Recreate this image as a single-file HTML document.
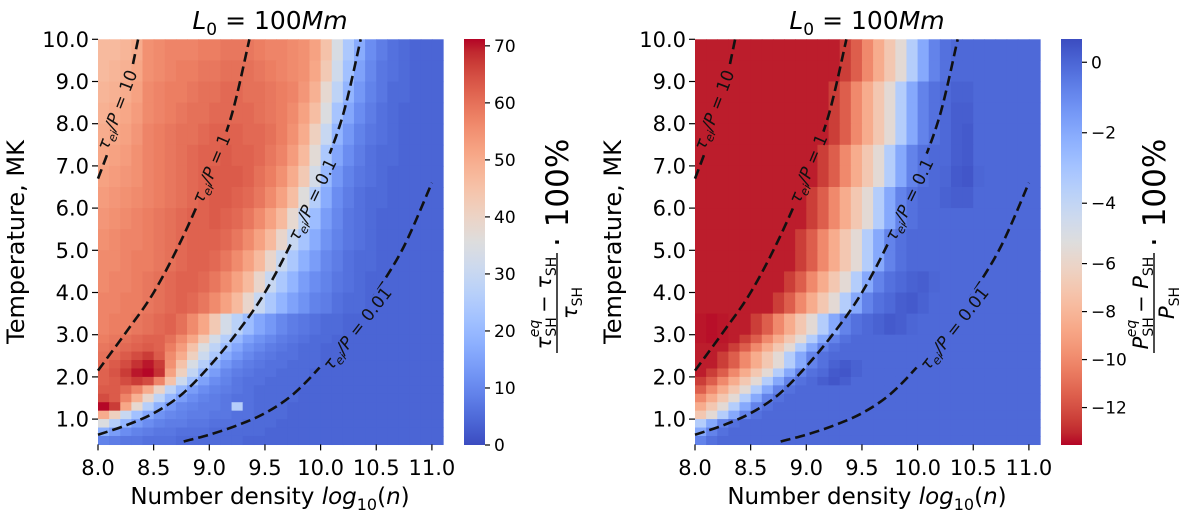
<!DOCTYPE html>
<html><head><meta charset="utf-8">
<style>
html,body{margin:0;padding:0;background:#fff;}
svg{display:block;font-family:"DejaVu Sans","Liberation Sans",sans-serif;}
</style></head>
<body>
<svg id="fig" width="1200" height="519" viewBox="0 0 1200 519" xmlns="http://www.w3.org/2000/svg">
  <g id="left-panel"></g>
  <g id="right-panel"></g>
</svg>
<script>
// ---------- data ----------
const densityEdges = [8.0,8.1,8.2,8.3,8.4,8.5,8.6,8.7,8.8,8.9,9.0,9.1,9.2,9.3,9.4,9.5,9.6,9.7,9.8,9.9,10.0,10.1,10.2,10.3,10.4,10.5,10.6,10.7,10.8,10.9,11.0,11.1];
const tempEdges = [10,9.5,9,8.5,8,7.5,7,6.5,6,5.5,5,4.5,4,3.5,3,2.8,2.6,2.4,2.2,2.0,1.8,1.6,1.4,1.2,1.0,0.8,0.6,0.4];
const xTickValues = [8.0,8.5,9.0,9.5,10.0,10.5,11.0];
const yTickValues = [1,2,3,4,5,6,7,8,9,10];
const leftCbarTicks = [0,10,20,30,40,50,60,70];
const rightCbarTicks = [0,-2,-4,-6,-8,-10,-12];
const leftRange = [0, 71.2];
const rightNormVals = [-13.56, -5.1, 0.66]; // vmin, vcenter, vmax

const leftZ = [
[47,47,48,50,55,56,57,57,57,58,58,59,59,59,58,57,57,56,55,52,45,34,24,17,11,8,6,5,4,4,4],
[47,48,49,51,55,56,57,58,58,59,59,60,60,60,59,58,57,56,55,51,43,32,22,15,10,7,6,5,4,4,4],
[48,49,50,52,56,57,58,58,59,60,60,61,61,60,60,59,58,57,54,49,38,28,19,13,9,7,5,5,4,4,4],
[49,50,51,53,56,57,58,59,60,60,61,61,61,61,60,59,58,56,52,46,35,23,16,11,8,6,5,4,4,4,4],
[50,51,52,54,57,58,59,60,60,61,62,62,62,61,61,60,58,55,50,41,30,19,13,9,7,6,5,4,4,4,4],
[51,52,53,55,57,58,59,60,61,62,62,63,62,62,61,59,57,53,47,37,24,16,11,8,6,5,5,4,4,4,4],
[52,53,54,55,57,58,59,60,61,62,63,63,63,62,60,58,55,50,43,33,20,13,9,7,6,5,4,4,4,4,4],
[53,54,55,56,57,58,59,60,61,62,63,63,62,61,59,56,52,46,36,26,17,11,8,6,5,5,4,4,4,4,4],
[54,55,56,57,58,59,60,61,62,62,63,62,61,59,56,52,47,38,28,21,14,10,7,6,5,4,4,4,4,4,4],
[55,56,57,57,58,59,60,61,62,62,62,61,59,56,52,47,39,30,23,17,12,9,7,6,5,4,4,4,4,4,4],
[56,56,57,58,58,59,60,61,62,62,61,59,56,52,47,39,30,24,18,14,10,8,6,5,5,4,4,4,4,4,4],
[56,57,57,58,59,60,61,62,62,61,59,56,52,47,39,30,24,19,14,11,9,7,6,5,4,4,4,4,4,4,4],
[57,57,58,58,59,60,61,62,61,59,56,52,47,39,30,24,19,15,12,9,8,6,5,5,4,4,4,4,4,4,4],
[57,58,58,59,60,61,62,60,56,51,43,33,27,21,16,13,10,8,7,6,5,5,4,4,4,4,4,4,4,4,4],
[58,59,60,61,62,62,60,56,51,43,33,26,20,15,12,10,8,7,6,5,5,4,4,4,4,4,4,4,4,4,4],
[59,60,61,62,63,62,58,53,45,35,28,21,16,12,10,8,7,6,5,5,4,4,4,4,4,4,4,4,4,4,4],
[60,61,63,65,67,63,56,50,41,31,24,17,13,10,8,7,6,6,5,5,4,4,4,4,4,4,4,4,4,4,4],
[61,63,65,68,70,67,55,45,34,26,18,13,10,8,7,6,6,5,5,5,4,4,4,4,4,4,4,4,4,4,4],
[62,64,67,70,71,68,52,41,29,20,14,10,8,7,6,6,5,5,5,4,4,4,4,4,4,4,4,4,4,4,4],
[62,63,65,67,65,57,45,31,22,15,11,9,7,6,6,5,5,5,5,4,4,4,4,4,4,4,4,4,4,4,4],
[63,63,61,57,50,40,28,20,14,11,9,8,7,6,5,5,5,5,4,4,4,4,4,4,4,4,4,4,4,4,4],
[65,63,57,49,39,28,20,14,11,9,8,7,6,6,5,5,5,5,4,4,4,4,4,4,4,4,4,4,4,4,4],
[71,67,51,38,26,18,13,10,9,8,8,7,26,6,5,5,5,4,4,4,4,4,4,4,4,4,4,4,4,4,4],
[50,41,30,22,16,12,10,9,8,8,7,7,6,6,5,5,5,4,4,4,4,4,4,4,4,4,4,4,4,4,4],
[35,26,19,14,11,9,8,8,7,7,6,6,6,5,5,5,4,4,4,4,4,4,4,4,4,4,4,4,4,4,4],
[18,14,11,9,8,7,7,6,6,6,5,5,5,5,5,4,4,4,4,4,4,4,4,4,4,4,4,4,4,4,4],
[9,8,7,7,6,6,6,5,5,5,5,5,5,4,4,4,4,4,4,4,4,4,4,4,4,4,4,4,4,4,4]
];

const rightZ = [
[-13.2,-13.2,-13.2,-13.2,-13.2,-13.2,-13.2,-13.2,-13.2,-13.2,-13.2,-13.2,-13.2,-12.5,-11.5,-10,-8.5,-7,-5.5,-3.5,-2,-0.8,-0.3,-0.1,-0.1,-0.1,-0.1,-0.1,-0.1,-0.1,-0.1],
[-13.2,-13.2,-13.2,-13.2,-13.2,-13.2,-13.2,-13.2,-13.2,-13.2,-13.2,-13.2,-13.2,-12.5,-11.5,-10,-8.5,-7,-5.5,-3.5,-2,-0.8,-0.3,-0.1,-0.1,-0.1,-0.1,-0.1,-0.1,-0.1,-0.1],
[-13.2,-13.2,-13.2,-13.2,-13.2,-13.2,-13.2,-13.2,-13.2,-13.2,-13.2,-13.2,-12.5,-11.5,-10,-8.5,-7,-5.5,-3.5,-2,-0.8,-0.3,-0.1,0.1,0.1,-0.1,-0.1,-0.1,-0.1,-0.1,-0.1],
[-13.2,-13.2,-13.2,-13.2,-13.2,-13.2,-13.2,-13.2,-13.2,-13.2,-13.2,-13.2,-12.5,-11.5,-10,-8.5,-7,-5.5,-3.5,-2,-0.8,-0.3,-0.1,0.2,0.2,-0.1,-0.1,-0.1,-0.1,-0.1,-0.1],
[-13.2,-13.2,-13.2,-13.2,-13.2,-13.2,-13.2,-13.2,-13.2,-13.2,-13.2,-13.2,-12.5,-11.5,-10,-8.5,-7,-5.5,-3.5,-2,-0.8,-0.3,-0.1,0.2,0.3,-0.1,-0.1,-0.1,-0.1,-0.1,-0.1],
[-13.2,-13.2,-13.2,-13.2,-13.2,-13.2,-13.2,-13.2,-13.2,-13.2,-13.2,-12.5,-11.5,-10,-8.5,-7,-5.5,-3.5,-2,-0.8,-0.3,-0.1,-0.1,0.2,0.3,-0.1,-0.1,-0.1,-0.1,-0.1,-0.1],
[-13.2,-13.2,-13.2,-13.2,-13.2,-13.2,-13.2,-13.2,-13.2,-13.2,-13.2,-12.5,-11.5,-10,-8.5,-7,-5.5,-3.5,-2,-0.8,-0.3,-0.1,0.0,0.3,0.4,0.0,-0.1,-0.1,-0.1,-0.1,-0.1],
[-13.2,-13.2,-13.2,-13.2,-13.2,-13.2,-13.2,-13.2,-13.2,-13.2,-12.5,-11.5,-10,-8.5,-7,-5.5,-3.5,-2,-0.8,-0.3,-0.1,-0.1,0.1,0.2,0.2,-0.1,-0.1,-0.1,-0.1,-0.1,-0.1],
[-13.2,-13.2,-13.2,-13.2,-13.2,-13.2,-13.2,-13.2,-13.2,-13.2,-12.5,-11.5,-10,-8.5,-7,-5.5,-3.5,-2,-0.8,-0.3,-0.1,-0.1,-0.1,-0.1,-0.1,-0.1,-0.1,-0.1,-0.1,-0.1,-0.1],
[-13.2,-13.2,-13.2,-13.2,-13.2,-13.2,-13.2,-13.2,-13.2,-12.5,-11.5,-10,-8.5,-7,-5.5,-3.5,-2,-0.8,-0.3,-0.1,-0.1,-0.1,-0.1,-0.1,-0.1,-0.1,-0.1,-0.1,-0.1,-0.1,-0.1],
[-13.2,-13.2,-13.2,-13.2,-13.2,-13.2,-13.2,-13.2,-13.2,-12.5,-11.5,-10,-8.5,-7,-5.5,-3.5,-2,-0.8,-0.3,-0.1,-0.1,-0.1,-0.1,-0.1,-0.1,-0.1,-0.1,-0.1,-0.1,-0.1,-0.1],
[-13.2,-13.2,-13.2,-13.2,-13.2,-13.2,-13.2,-13.2,-12.5,-11.5,-10,-8.5,-7,-5.5,-3.5,-2,-0.8,-0.3,-0.1,0.1,0.2,0.0,-0.1,-0.1,-0.1,-0.1,-0.1,-0.1,-0.1,-0.1,-0.1],
[-13.2,-13.2,-13.2,-13.2,-13.2,-13.2,-13.2,-12.5,-11.5,-10,-8.5,-7,-5.5,-3.5,-2,-0.8,-0.3,-0.1,0.2,0.3,0.1,-0.1,-0.1,-0.1,-0.1,-0.1,-0.1,-0.1,-0.1,-0.1,-0.1],
[-13.3,-13.4,-13.3,-13.2,-13.2,-12.5,-11.5,-10,-8.5,-7,-5.5,-3.5,-2,-0.8,-0.3,-0.1,0.1,0.3,0.2,0.0,-0.1,-0.1,-0.1,-0.1,-0.1,-0.1,-0.1,-0.1,-0.1,-0.1,-0.1],
[-13.3,-13.4,-13.3,-13.2,-12.5,-11.5,-10,-8.5,-7,-5.5,-3.5,-2,-0.8,-0.3,-0.1,-0.1,-0.1,-0.1,-0.1,-0.1,-0.1,-0.1,-0.1,-0.1,-0.1,-0.1,-0.1,-0.1,-0.1,-0.1,-0.1],
[-13.2,-13.2,-13.2,-12.5,-11.5,-10,-8.5,-7,-5.5,-3.5,-2,-0.8,-0.3,-0.1,-0.1,-0.1,-0.1,-0.1,-0.1,-0.1,-0.1,-0.1,-0.1,-0.1,-0.1,-0.1,-0.1,-0.1,-0.1,-0.1,-0.1],
[-13.2,-13.2,-12.5,-11.5,-10,-8.5,-7,-5.5,-3.5,-2,-0.8,-0.3,-0.1,-0.1,-0.1,-0.1,-0.1,-0.1,-0.1,-0.1,-0.1,-0.1,-0.1,-0.1,-0.1,-0.1,-0.1,-0.1,-0.1,-0.1,-0.1],
[-13.2,-13.2,-12.5,-11.5,-10,-8.5,-7,-5.5,-3.5,-2,-0.8,-0.3,0.1,0.3,0.1,-0.1,-0.1,-0.1,-0.1,-0.1,-0.1,-0.1,-0.1,-0.1,-0.1,-0.1,-0.1,-0.1,-0.1,-0.1,-0.1],
[-13.2,-12.5,-11.5,-10,-8.5,-7,-5.5,-3.5,-2,-0.8,-0.3,-0.1,0.3,0.4,0.1,-0.1,-0.1,-0.1,-0.1,-0.1,-0.1,-0.1,-0.1,-0.1,-0.1,-0.1,-0.1,-0.1,-0.1,-0.1,-0.1],
[-12.5,-11.5,-10,-8.5,-7,-5.5,-3.5,-2,-0.8,-0.3,-0.1,0.2,0.4,0.2,-0.1,-0.1,-0.1,-0.1,-0.1,-0.1,-0.1,-0.1,-0.1,-0.1,-0.1,-0.1,-0.1,-0.1,-0.1,-0.1,-0.1],
[-11.5,-10,-8.5,-7,-5.5,-3.5,-2,-0.8,-0.3,-0.1,-0.1,-0.1,-0.1,-0.1,-0.1,-0.1,-0.1,-0.1,-0.1,-0.1,-0.1,-0.1,-0.1,-0.1,-0.1,-0.1,-0.1,-0.1,-0.1,-0.1,-0.1],
[-10,-8.5,-7,-5.5,-3.5,-2,-0.8,-0.3,-0.1,-0.1,-0.1,-0.1,-0.1,-0.1,-0.1,-0.1,-0.1,-0.1,-0.1,-0.1,-0.1,-0.1,-0.1,-0.1,-0.1,-0.1,-0.1,-0.1,-0.1,-0.1,-0.1],
[-8.5,-7,-5.5,-3.5,-2,-0.8,-0.3,-0.1,-0.1,-0.1,-0.1,-0.1,-0.1,-0.1,-0.1,-0.1,-0.1,-0.1,-0.1,-0.1,-0.1,-0.1,-0.1,-0.1,-0.1,-0.1,-0.1,-0.1,-0.1,-0.1,-0.1],
[-7,-5.5,-3.5,-2,-0.8,-0.3,-0.1,-0.1,-0.1,-0.1,-0.1,-0.1,-0.1,-0.1,-0.1,-0.1,-0.1,-0.1,-0.1,-0.1,-0.1,-0.1,-0.1,-0.1,-0.1,-0.1,-0.1,-0.1,-0.1,-0.1,-0.1],
[-3.5,-2,-0.8,-0.3,-0.1,-0.1,-0.1,-0.1,-0.1,-0.1,-0.1,-0.1,-0.1,-0.1,-0.1,-0.1,-0.1,-0.1,-0.1,-0.1,-0.1,-0.1,-0.1,-0.1,-0.1,-0.1,-0.1,-0.1,-0.1,-0.1,-0.1],
[-2,-0.8,-0.3,-0.1,-0.1,-0.1,-0.1,-0.1,-0.1,-0.1,-0.1,-0.1,-0.1,-0.1,-0.1,-0.1,-0.1,-0.1,-0.1,-0.1,-0.1,-0.1,-0.1,-0.1,-0.1,-0.1,-0.1,-0.1,-0.1,-0.1,-0.1],
[-0.8,-0.3,-0.1,-0.1,-0.1,-0.1,-0.1,-0.1,-0.1,-0.1,-0.1,-0.1,-0.1,-0.1,-0.1,-0.1,-0.1,-0.1,-0.1,-0.1,-0.1,-0.1,-0.1,-0.1,-0.1,-0.1,-0.1,-0.1,-0.1,-0.1,-0.1]
];

// contour lines (log10 n, T)
const curve10 = [[8.0,6.7],[8.1,7.4],[8.2,8.2],[8.28,9.0],[8.36,10.0]];
const curve1 = [[8.0,2.15],[8.25,3.05],[8.5,4.0],[8.75,5.25],[9.0,6.75],[9.2,8.2],[9.36,10.0]];
const curve01 = [[8.0,0.63],[8.25,0.85],[8.5,1.14],[8.75,1.58],[9.0,2.25],[9.25,3.05],[9.5,4.0],[9.75,5.25],[10.0,6.75],[10.2,8.2],[10.36,10.0]];
const curve001 = [[8.77,0.47],[9.0,0.63],[9.25,0.85],[9.5,1.14],[9.75,1.58],[10.0,2.25],[10.25,3.05],[10.5,4.0],[10.75,5.1],[11.0,6.6]];
const curveLabels = ["10","1","0.1","0.01"];

// ---------- helpers ----------
const NS = "http://www.w3.org/2000/svg";
const cw = [[59,76,192],[68,90,204],[77,104,215],[87,117,225],[98,130,234],[108,142,241],[119,154,247],[130,165,251],[141,176,254],[152,185,255],[163,194,255],[174,201,253],[184,208,249],[194,213,244],[204,217,238],[213,219,230],[221,221,221],[229,216,209],[236,211,197],[241,204,184],[245,196,172],[247,187,159],[247,177,147],[247,166,134],[244,154,123],[241,141,111],[236,127,99],[229,112,89],[222,96,77],[213,80,68],[203,62,56],[192,40,47],[180,4,38]];
function coolwarm(f){
  f=Math.max(0,Math.min(1,f));
  const p=f*(cw.length-1), i=Math.min(Math.floor(p),cw.length-2), t=p-i;
  const a=cw[i], b=cw[i+1];
  return `rgb(${Math.round(a[0]+(b[0]-a[0])*t)},${Math.round(a[1]+(b[1]-a[1])*t)},${Math.round(a[2]+(b[2]-a[2])*t)})`;
}
function leftNorm(v){return (v-leftRange[0])/(leftRange[1]-leftRange[0]);}
function rightNorm(v){
  const [lo,c,hi]=rightNormVals;
  return v<c ? 0.5*(v-lo)/(c-lo) : 0.5+0.5*(v-c)/(hi-c);
}
function el(tag, attrs, parent){
  const e=document.createElementNS(NS,tag);
  for(const k in attrs) e.setAttribute(k,attrs[k]);
  parent.appendChild(e); return e;
}
const PLOT_TOP=39.3, PLOT_BOTTOM=444.4, PX_PER_DEX=111.3, PX_PER_MK=42.2;
function yScale(T){return PLOT_TOP+(10-T)*PX_PER_MK;}
function catmull(pts){
  let d=`M${pts[0][0].toFixed(1)},${pts[0][1].toFixed(1)}`;
  for(let i=0;i<pts.length-1;i++){
    const p0=pts[Math.max(i-1,0)],p1=pts[i],p2=pts[i+1],p3=pts[Math.min(i+2,pts.length-1)];
    const c1=[p1[0]+(p2[0]-p0[0])/6,p1[1]+(p2[1]-p0[1])/6];
    const c2=[p2[0]-(p3[0]-p1[0])/6,p2[1]-(p3[1]-p1[1])/6];
    d+=` C${c1[0].toFixed(1)},${c1[1].toFixed(1)} ${c2[0].toFixed(1)},${c2[1].toFixed(1)} ${p2[0].toFixed(1)},${p2[1].toFixed(1)}`;
  }
  return d;
}

function drawPanel(g, x0, Z, colorFn, cbarX, cbarTicks, cbarTickY, cbarReversed, labelVar, pid){
  const xScale = n => x0+(n-8)*PX_PER_DEX;
  // heatmap
  const hm=el('g',{},g);
  
  
  for(let r=0;r<Z.length;r++){
    const yA=yScale(tempEdges[r]), yB=yScale(tempEdges[r+1]);
    for(let c=0;c<Z[r].length;c++){
      const xA=xScale(densityEdges[c]), xB=xScale(densityEdges[c+1]);
      const rect=el('rect',{x:xA.toFixed(2),y:yA.toFixed(2),width:(xB-xA+0.6).toFixed(2),height:(yB-yA+0.6).toFixed(2),fill:colorFn(Z[r][c])},hm);
      
      
    }
  }
  // label positions / mask for line gaps
  const lab=[[20,110,-69,88],[114,169,-67,80],[215,200,-64,98],[260,329,-52,108]];
  const defs=el('defs',{},g);
  const mask=el('mask',{id:'m'+pid,maskUnits:'userSpaceOnUse',x:0,y:0,width:1200,height:519},defs);
  el('rect',{x:0,y:0,width:1200,height:519,fill:'#fff'},mask);
  lab.forEach(L=>{
    const x=x0+L[0], y=L[1];
    el('rect',{x:x-L[3]/2,y:y-9,width:L[3],height:18,fill:'#000',transform:`rotate(${L[2]} ${x} ${y})`},mask);
  });
  // contour curves
  const curves=[curve10,curve1,curve01,curve001];
  const cg=el('g',{mask:`url(#m${pid})`},g);
  curves.forEach((cv,i)=>{
    const pts=cv.map(p=>[xScale(p[0]),yScale(p[1])]);
    const path=el('path',{d:catmull(pts),fill:'none',stroke:'#111','stroke-width':2.6,'stroke-dasharray':'10,5'},cg);
    
    
  });
  lab.forEach((L,i)=>{
    const x=x0+L[0], y=L[1];
    const t=el('text',{x:x,y:y,'text-anchor':'middle','font-size':17,fill:'#111',transform:`rotate(${L[2]} ${x} ${y})`,'dominant-baseline':'middle'},g);
    
    
    t.innerHTML=`<tspan font-style="italic">τ</tspan><tspan dy="5" font-size="12" font-style="italic">ei</tspan><tspan dy="-5" font-style="italic">/P</tspan> = ${curveLabels[i]}`;
  });
  // axes ticks
  xTickValues.forEach(v=>{
    const x=xScale(v);
    el('line',{x1:x,y1:PLOT_BOTTOM,x2:x,y2:PLOT_BOTTOM+6,stroke:'#000','stroke-width':1.2},g);
    const t=el('text',{x:x,y:475,'text-anchor':'middle','font-size':21,fill:'#000'},g);
    
    
    t.textContent=v.toFixed(1);
  });
  yTickValues.forEach(v=>{
    const y=yScale(v);
    el('line',{x1:x0-6,y1:y,x2:x0,y2:y,stroke:'#000','stroke-width':1.2},g);
    const t=el('text',{x:x0-9,y:y+7.5,'text-anchor':'end','font-size':21,fill:'#000'},g);
    
    
    t.textContent=v.toFixed(1);
  });
  const cx=x0+172;
  const title=el('text',{x:cx,y:29,'text-anchor':'middle','font-size':25,fill:'#000'},g);
  
  
  title.innerHTML='<tspan font-style="italic">L</tspan><tspan dy="6" font-size="17">0</tspan><tspan dy="-6"> = 100</tspan><tspan font-style="italic">Mm</tspan>';
  const xl=el('text',{x:cx,y:504,'text-anchor':'middle','font-size':23,fill:'#000'},g);
  
  
  xl.innerHTML='Number density <tspan font-style="italic">log</tspan><tspan dy="6" font-size="16">10</tspan><tspan dy="-6">(</tspan><tspan font-style="italic">n</tspan>)';
  const yx=x0-74;
  const yl=el('text',{x:0,y:0,'text-anchor':'middle','font-size':24,fill:'#000',transform:`translate(${yx} 242) rotate(-90)`},g);
  
  
  yl.textContent='Temperature, MK';
  // colorbar
  const gid='grad'+pid;
  const lg=el('linearGradient',{id:gid,x1:0,y1:cbarReversed?0:1,x2:0,y2:cbarReversed?1:0},defs);
  for(let i=0;i<cw.length;i++) el('stop',{offset:(i/(cw.length-1)).toFixed(4),'stop-color':coolwarm(i/(cw.length-1))},lg);
  const cb=el('rect',{x:cbarX,y:39,width:21,height:406,fill:`url(#${gid})`},g);
  
  
  cbarTicks.forEach(v=>{
    const y=cbarTickY(v);
    el('line',{x1:cbarX+21,y1:y,x2:cbarX+26,y2:y,stroke:'#000','stroke-width':1.2},g);
    const t=el('text',{x:cbarX+30,y:y+6,'font-size':17,fill:'#000'},g);
    
    
    t.textContent=(v<0?'\u2212'+(-v):String(v));
  });
  // colorbar label
  const lx=cbarX+93, ly=353;
  const lg2=el('g',{transform:`translate(${lx} ${ly}) rotate(-90)`},g);
  
  
  el('line',{x1:0,y1:0,x2:100,y2:0,stroke:'#000','stroke-width':1.4},lg2);
  const num=el('text',{x:50,y:-6,'text-anchor':'middle','font-size':21,fill:'#000'},lg2);
  num.innerHTML=`<tspan font-style="italic">${labelVar}</tspan><tspan dy="5" font-size="14">SH</tspan><tspan dx="-20" dy="-17" font-size="14" font-style="italic">eq</tspan><tspan dy="12"> − </tspan><tspan font-style="italic">${labelVar}</tspan><tspan dy="5" font-size="14">SH</tspan>`;
  const den=el('text',{x:50,y:20,'text-anchor':'middle','font-size':21,fill:'#000'},lg2);
  den.innerHTML=`<tspan font-style="italic">${labelVar}</tspan><tspan dy="5" font-size="14">SH</tspan>`;
  const pct=el('text',{x:106,y:11,'font-size':31,fill:'#000'},lg2);
  pct.textContent='· 100%';
}

const leftG=document.getElementById('left-panel');
drawPanel(leftG, 98, leftZ, v=>coolwarm(leftNorm(v)), 464, leftCbarTicks, v=>445-leftNorm(v)*406, false, 'τ', 'L');
const rightG=document.getElementById('right-panel');
drawPanel(rightG, 695, rightZ, v=>coolwarm(1-rightNorm(v)), 1061, rightCbarTicks, v=>39+(1-rightNorm(v))*406, true, 'P', 'R');
</script>
</body></html>
